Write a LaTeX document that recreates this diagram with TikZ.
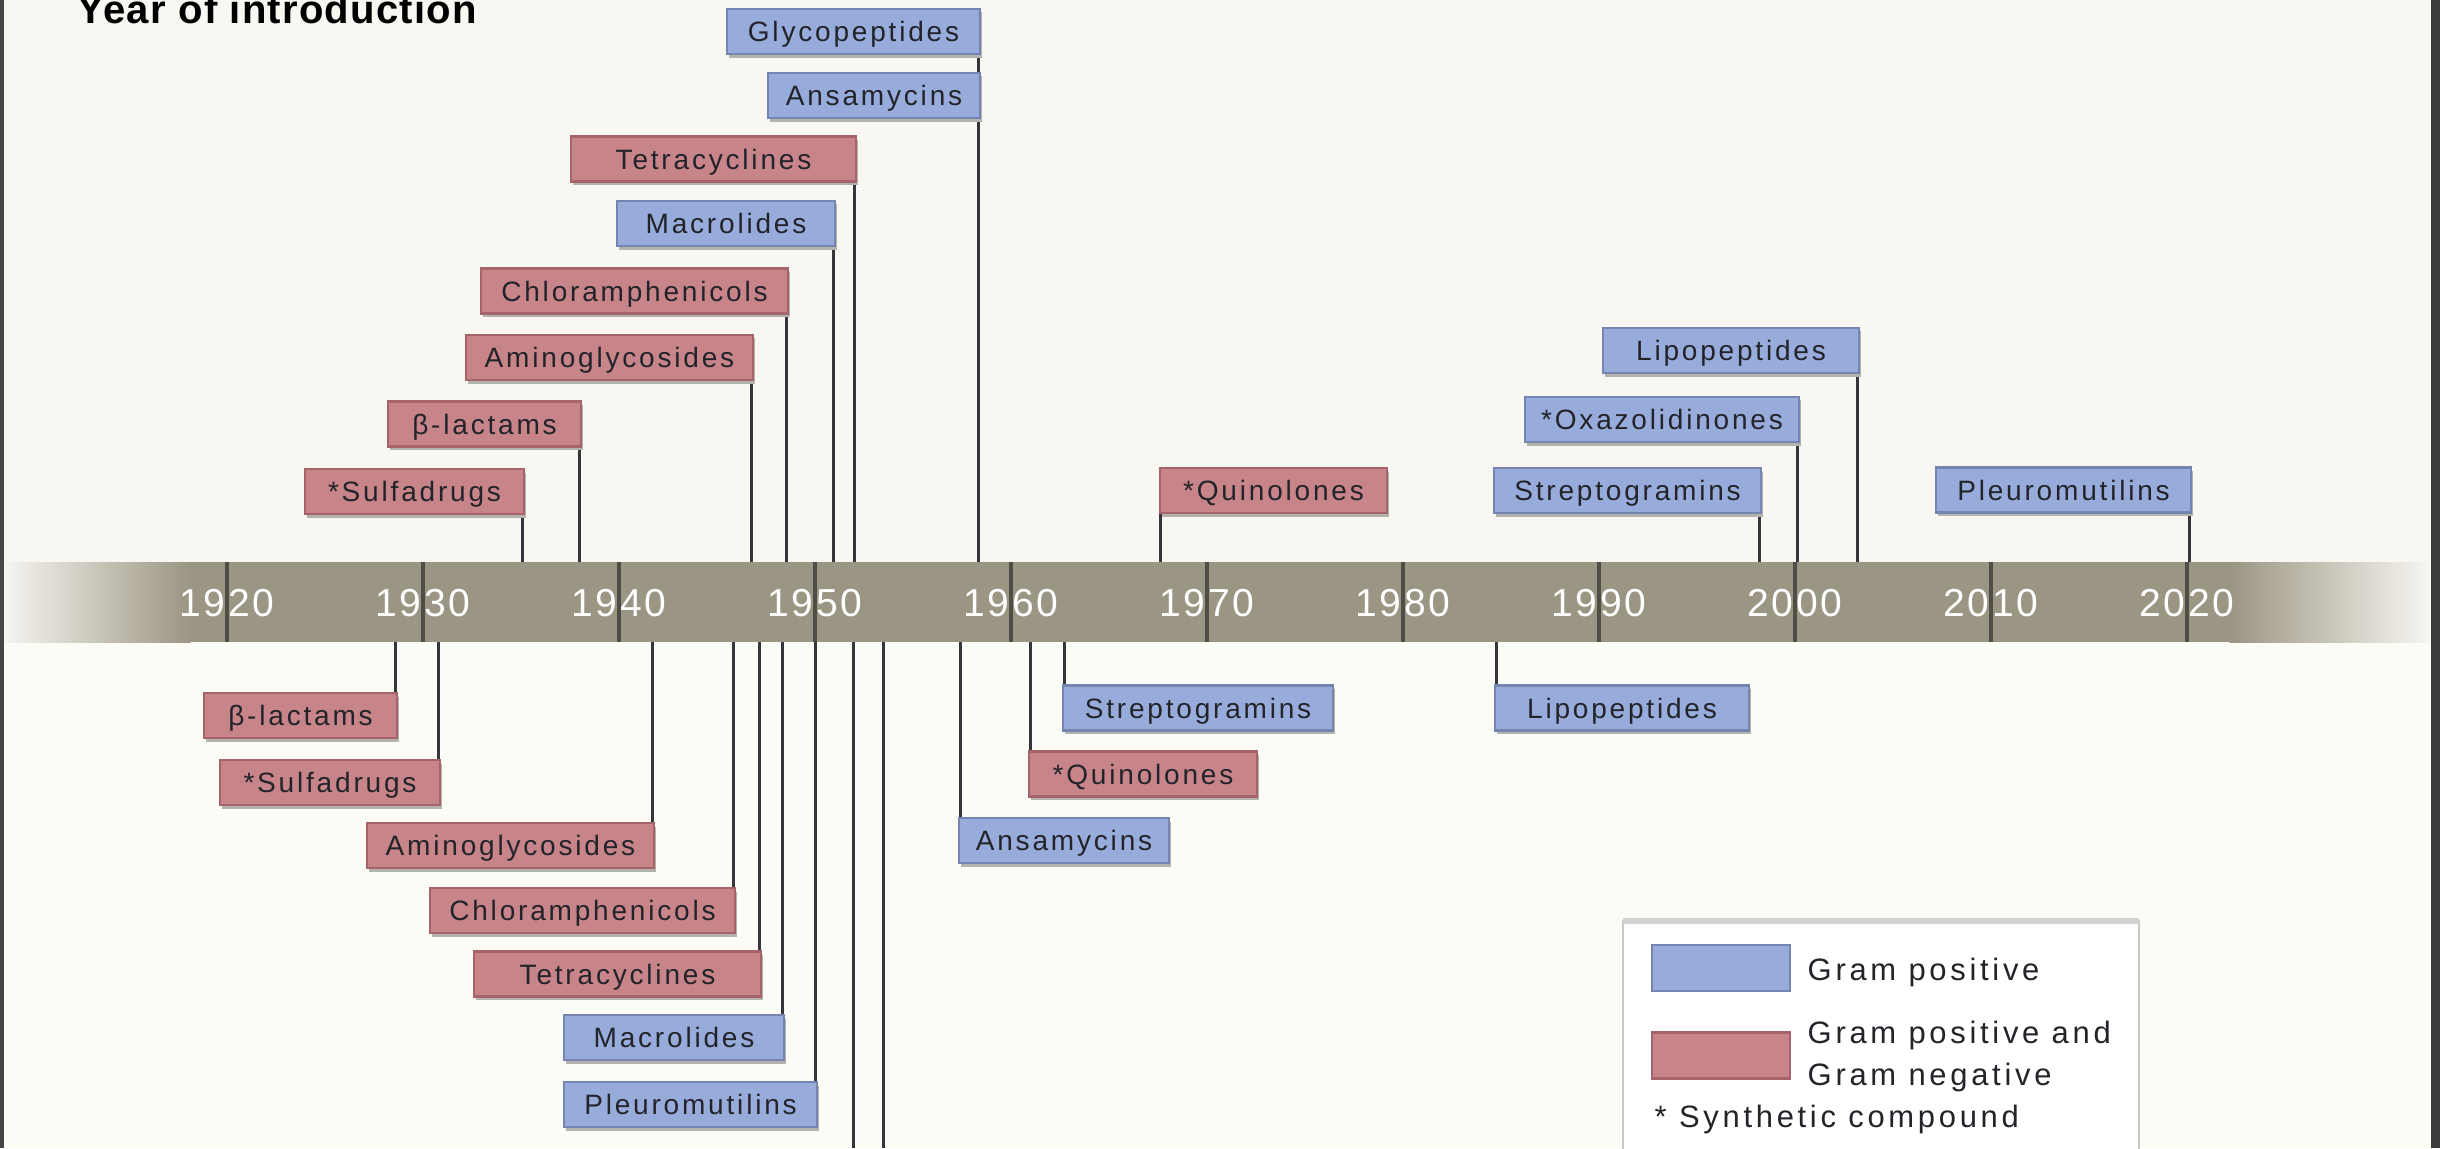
\documentclass[tikz,border=0pt]{standalone}
\usepackage{fontspec}
\setmainfont{Liberation Sans}
\newfontfamily\boxfont[LetterSpace=10]{Liberation Sans}
\newfontfamily\yearfont[LetterSpace=7]{Liberation Sans}
\newfontfamily\legfont[LetterSpace=12]{Liberation Sans}
\newfontfamily\titlefont[LetterSpace=3]{Liberation Sans}
\usetikzlibrary{shadows}
\pgfdeclarelayer{back}\pgfdeclarelayer{mid}\pgfsetlayers{back,mid,main}
\definecolor{bgtop}{RGB}{248,247,242}
\definecolor{bgbot}{RGB}{252,252,247}
\definecolor{bandc}{RGB}{155,149,131}
\definecolor{tickc}{RGB}{80,77,70}
\definecolor{connc}{RGB}{55,53,60}
\definecolor{bluef}{RGB}{152,172,220}
\definecolor{blued}{RGB}{118,132,176}
\definecolor{redf}{RGB}{200,133,137}
\definecolor{redd}{RGB}{165,100,105}
\definecolor{txtc}{RGB}{35,35,42}
\definecolor{shadc}{RGB}{180,178,172}
\definecolor{legc}{RGB}{200,200,196}
\definecolor{bordc}{RGB}{70,70,70}
\begin{document}
\begin{tikzpicture}[x=0.01cm,y=-0.01cm,
  lbl/.style={minimum height=0.45cm, inner sep=0pt, text height=0.2cm, text depth=0cm,
    font={\boxfont\fontsize{7.97pt}{9pt}\selectfont}, text=txtc, line width=0.6pt,
    drop shadow={shadow xshift=0.02cm, shadow yshift=-0.035cm, fill=shadc, opacity=1}},
  gpos/.style={lbl, fill=bluef, draw=blued},
  gneg/.style={lbl, fill=redf, draw=redd},
  conn/.style={draw=connc, line width=0.85pt},
  tickline/.style={draw=tickc, line width=0.9pt},
  yearlbl/.style={font={\yearfont\fontsize{11.1pt}{12pt}\selectfont}, text=white, inner sep=0pt},
  legtxt/.style={font={\legfont\fontsize{8.8pt}{10pt}\selectfont}, text=txtc, inner sep=0pt, anchor=base west},
  swatch/.style={minimum width=1.38cm, minimum height=0.46cm, inner sep=0pt, line width=0.6pt}
]
\path[use as bounding box] (0,0) rectangle (2440,1148);
\begin{pgfonlayer}{back}
\fill[bgtop] (0,0) rectangle (2440,562);
\fill[bgbot] (0,642) rectangle (2440,1148);
\fill[bandc] (190,562) rectangle (2230,642);
\shade[left color=bgtop, right color=bandc] (0,562) rectangle (190.5,642);
\shade[left color=bandc, right color=bgtop] (2229.5,562) rectangle (2432,642);
\foreach \yr in {1920,1930,...,2020}{
  \pgfmathsetmacro\xx{227+(\yr-1920)*19.6}
  \node[yearlbl] (y\yr) at (\xx,603) {\yr};
  \draw[tickline] (y\yr.center |- 0,562) -- (y\yr.center |- 0,642);
}
\fill[bordc] (0,0) rectangle (4,1148);
\fill[bordc!85!black] (2431,0) rectangle (2440,1148);
% legend frame
\filldraw[fill=white, draw=legc, line width=0.8pt] (1623,921) rectangle (2139,1152);
\draw[draw=legc!80, line width=1.6pt] (1623,921) -- (2139,921);
\end{pgfonlayer}
\coordinate (bandT) at (0,562);
\coordinate (bandB) at (0,642);
% title
\node[anchor=base west, inner sep=0pt, font={\titlefont\bfseries\fontsize{11.4pt}{13pt}\selectfont}, text=black] (title) at (77,23) {Year of introduction};
% top boxes
\node[gpos, minimum width=2.53cm] (tGly) at (853.5,31.5) {Glycopeptides};
\node[gpos, minimum width=2.12cm] (tAns) at (874,95.5) {Ansamycins};
\node[gneg, minimum width=2.85cm] (tTet) at (713.5,159) {Tetracyclines};
\node[gpos, minimum width=2.18cm] (tMac) at (726,223.5) {Macrolides};
\node[gneg, minimum width=3.07cm] (tChl) at (634.5,291) {Chloramphenicols};
\node[gneg, minimum width=2.87cm] (tAmi) at (609.5,357.5) {Aminoglycosides};
\node[gneg, minimum width=1.93cm] (tBet) at (484.5,424) {β-lactams};
\node[gneg, minimum width=2.19cm] (tSul) at (414.5,491.5) {*Sulfadrugs};
\node[gneg, minimum width=2.27cm] (tQui) at (1273.5,490.5) {*Quinolones};
\node[gpos, minimum width=2.67cm] (tStr) at (1627.5,490.5) {Streptogramins};
\node[gpos, minimum width=2.74cm] (tOxa) at (1662,419.5) {*Oxazolidinones};
\node[gpos, minimum width=2.56cm] (tLip) at (1731,350.5) {Lipopeptides};
\node[gpos, minimum width=2.55cm] (tPle) at (2063.5,490) {Pleuromutilins};
% bottom boxes
\node[gneg, minimum width=1.93cm] (bBet) at (300.5,715.5) {β-lactams};
\node[gneg, minimum width=2.20cm] (bSul) at (330,782.5) {*Sulfadrugs};
\node[gneg, minimum width=2.87cm] (bAmi) at (510.5,845.5) {Aminoglycosides};
\node[gneg, minimum width=3.05cm] (bChl) at (582.5,910.5) {Chloramphenicols};
\node[gneg, minimum width=2.87cm] (bTet) at (617.5,974) {Tetracyclines};
\node[gpos, minimum width=2.20cm] (bMac) at (674,1037.5) {Macrolides};
\node[gpos, minimum width=2.53cm] (bPle) at (690.5,1104.5) {Pleuromutilins};
\node[gpos, minimum width=2.70cm] (bStr) at (1198,708) {Streptogramins};
\node[gneg, minimum width=2.28cm] (bQui) at (1143,774) {*Quinolones};
\node[gpos, minimum width=2.10cm] (bAns) at (1064,840.5) {Ansamycins};
\node[gpos, minimum width=2.54cm] (bLip) at (1622,708) {Lipopeptides};
\coordinate (offA) at (853,1148);
\coordinate (offB) at (883,1148);
% connectors
\begin{pgfonlayer}{mid}
\foreach \n in {tGly,tTet,tMac,tChl,tAmi,tBet,tSul,tStr,tOxa,tLip,tPle}{
  \draw[conn] ([xshift=-0.03cm]\n.south east) -- ([xshift=-0.03cm]\n.south east |- bandT);
}
\draw[conn] ([xshift=0.02cm]tQui.south west) -- ([xshift=0.02cm]tQui.south west |- bandT);
\foreach \n in {bBet,bSul,bAmi,bChl,bTet,bMac,bPle}{
  \draw[conn] ([xshift=-0.03cm]\n.north east) -- ([xshift=-0.03cm]\n.north east |- bandB);
}
\foreach \n in {bStr,bQui,bAns,bLip}{
  \draw[conn] ([xshift=0.03cm]\n.north west) -- ([xshift=0.03cm]\n.north west |- bandB);
}
\draw[conn] (offA |- bandB) -- (offA);
\draw[conn] (offB |- bandB) -- (offB);
\end{pgfonlayer}
% legend
\node[swatch, fill=bluef, draw=blued] (swB) at (1721,968) {};
\node[swatch, fill=redf, draw=redd] (swR) at (1721,1055.5) {};
\node[legtxt] (lg1) at (1807,980) {Gram positive};
\node[legtxt] (lg2) at (1807,1043) {Gram positive and};
\node[legtxt] (lg3) at (1807,1085) {Gram negative};
\node[legtxt] (lg4) at (1654,1127) {* Synthetic compound};
\end{tikzpicture}
\end{document}
